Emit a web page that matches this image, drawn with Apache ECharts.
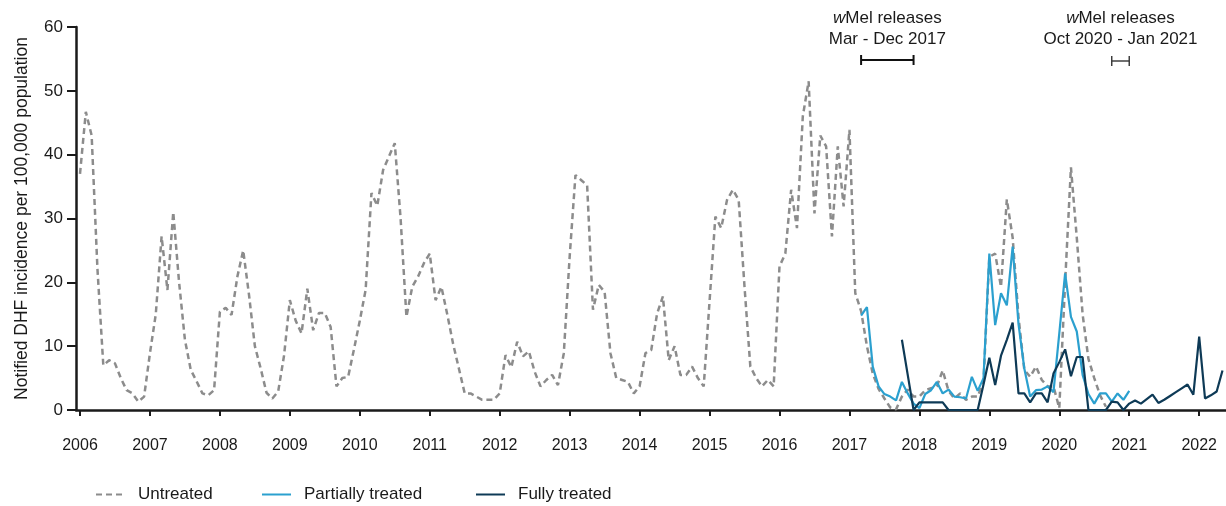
<!DOCTYPE html>
<html>
<head>
<meta charset="utf-8">
<script src="https://cdn.jsdelivr.net/npm/echarts@6/dist/echarts.min.js"></script>
<style>
html,body{margin:0;padding:0;background:#fff;}
#chart{width:1226px;height:506px;}
</style>
</head>
<body>
<div id="chart"></div>
<script>
// ---------- DATA (monthly notified DHF incidence per 100,000) ----------
const yearTicks = [2006,2007,2008,2009,2010,2011,2012,2013,2014,2015,2016,2017,2018,2019,2020,2021,2022];

// Untreated: Jan 2006 - Sep 2020
const untreatedStart = [2006, 1];
const untreatedValues = [
  37, 46.7, 43, 22, 7, 7.8, 7.3, 5, 3.1, 2.6, 1.3, 2.1,            // 2006
  8.9, 15, 27.2, 18.8, 31, 20, 11, 6.3, 4.5, 2.6, 2.3, 3.1,        // 2007
  15.4, 16, 14.9, 20.9, 25, 18, 10, 6.5, 2.7, 1.8, 2.9, 8.5,       // 2008
  17.2, 14, 12, 19, 12.5, 15.2, 15.2, 13, 3.7, 5, 5.2, 9.5,        // 2009
  14, 18.8, 34, 32, 37.6, 39.7, 41.8, 30, 14.6, 19.3, 20.9, 23,    // 2010
  24.5, 17.2, 19.3, 15, 10.4, 6.5, 2.6, 2.6, 2.1, 1.6, 1.6, 1.6,   // 2011
  2.6, 8.6, 6.7, 10.7, 8.4, 9.2, 6, 3.7, 4.7, 5.5, 3.9, 8.9,       // 2012
  24, 36.8, 36, 35.2, 15.7, 19.6, 18.5, 8.9, 5, 4.7, 4.4, 2.6,     // 2013
  3.7, 8.9, 9.4, 15.1, 17.8, 7.8, 10, 5.5, 5.5, 6.8, 5, 3.7,       // 2014
  17, 30.3, 28.5, 32.9, 34.5, 32.9, 19.3, 6.8, 5, 3.7, 4.7, 3.7,   // 2015
  22.5, 24.5, 34.5, 28.5, 46, 51.5, 30.8, 43, 41.3, 27.2, 41.3, 31.9, // 2016
  43.9, 18.3, 15.5, 10, 5.7, 3.3, 1.8, 0.4, 0.1, 2.1, 3.2, 2.1,    // 2017
  2.1, 3.1, 3.4, 3.7, 6.2, 3, 1.8, 2.6, 1.6, 2.1, 2.1, 4.5,        // 2018
  24, 24.5, 19.3, 33, 27, 14.6, 6.3, 5.2, 6.8, 4.7, 3.7, 3.7,      // 2019
  0.3, 20, 38, 27, 15, 8, 5, 2.3, 0.5                              // 2020
];

// Partially treated: Mar 2017 - Jan 2021
const partialStart = [2017, 3];
const partialValues = [
  14.8, 16.1, 6.8, 3.7, 2.5, 2.1, 1.5, 4.4, 2.6, 1,                // 2017
  0.3, 2.5, 3.1, 4.4, 2.6, 3.2, 2.1, 2, 1.8, 5.2, 3, 5,            // 2018
  24.5, 13.3, 18.3, 16.4, 25.6, 13.5, 6.5, 2.1, 3.1, 3.2, 3.7, 2.8, // 2019
  12, 21.4, 14.6, 12.3, 5.5, 2.5, 1, 2.6, 2.6, 1.3, 2.6, 1.6,      // 2020
  3                                                                // 2021
];

// Fully treated: Oct 2017 - May 2022
const fullStart = [2017, 10];
const fullValues = [
  11, 5.5, 0,                                                      // 2017
  1.2, 1.2, 1.2, 1.2, 1.2, 0, 0, 0, 0, 0, 0, 4,                    // 2018
  8.2, 3.9, 8.5, 11, 13.7, 2.6, 2.6, 1.2, 2.6, 2.6, 1.2, 5.7,      // 2019
  7.5, 9.5, 5.3, 8.3, 8.3, 0, 0, 0, 0, 1.3, 1.2, 0,                // 2020
  1, 1.5, 1, 1.7, 2.4, 1.1, 1.6, 2.2, 2.8, 3.4, 4, 2.4,            // 2021
  11.5, 1.8, 2.3, 2.9, 6.2                                         // 2022
];

// Release periods (annotations)
const releases = [
  { title: 'Mel releases', period: 'Mar - Dec 2017', from: [2017, 3], to: [2017, 12], bold: true },
  { title: 'Mel releases', period: 'Oct 2020 - Jan 2021', from: [2020, 10], to: [2021, 1], bold: false }
];

// ---------- BUILD ----------
function toX(ym) { return ym[0] + (ym[1] - 1) / 12; }
function monthly(start, values) {
  return values.map((v, i) => [start[0] + (start[1] - 1 + i) / 12, v]);
}

const FONT = "'Liberation Sans', Arial, Helvetica, sans-serif";
const INK = '#1a1a1a';
const C_UNT = '#8c8c8c', C_PAR = '#2ba0cf', C_FUL = '#0e3a56';

const chart = echarts.init(document.getElementById('chart'), null, { renderer: 'canvas' });

const legendBase = {
  top: 486, padding: 0, itemWidth: 29, itemHeight: 14, orient: 'horizontal',
  itemStyle: { opacity: 0 },
  textStyle: { fontFamily: FONT, fontSize: 17, color: INK, padding: [0, 0, 0, 8] },
  selectedMode: false
};

const option = {
  backgroundColor: '#fff',
  animation: false,
  textStyle: { fontFamily: FONT },
  grid: { left: 76, right: 0, top: 27, bottom: 96, containLabel: false },
  legend: [
    Object.assign({}, legendBase, { left: 95, data: ['Untreated'] }),
    Object.assign({}, legendBase, { left: 261, data: ['Partially treated'] }),
    Object.assign({}, legendBase, { left: 475, data: ['Fully treated'] })
  ],
  xAxis: {
    type: 'value',
    min: 2006 - 4 / 70,
    max: 2022 + 4.6 / 12,
    axisLine: { show: true, onZero: false, lineStyle: { color: INK, width: 2.5 } },
    axisTick: { show: true, customValues: yearTicks, length: 6, lineStyle: { color: INK, width: 2 } },
    axisLabel: { show: true, customValues: yearTicks, margin: 28, fontSize: 16, color: INK, fontFamily: FONT,
                 formatter: v => String(Math.round(v)) },
    splitLine: { show: false }
  },
  yAxis: {
    type: 'value',
    min: 0, max: 60, interval: 10,
    name: 'Notified DHF incidence per 100,000 population',
    nameLocation: 'middle', nameGap: 45,
    nameTextStyle: { fontSize: 17.5, color: INK, fontFamily: FONT },
    axisLine: { show: true, onZero: false, lineStyle: { color: INK, width: 2.5 } },
    axisTick: { show: true, length: 9, lineStyle: { color: INK, width: 2 } },
    axisLabel: { fontSize: 17, color: INK, margin: 13, fontFamily: FONT },
    splitLine: { show: false }
  },
  series: [
    {
      name: 'Untreated', type: 'line', symbol: 'none',
      data: monthly(untreatedStart, untreatedValues),
      lineStyle: { color: C_UNT, width: 2.5, type: [6, 4] },
      itemStyle: { color: C_UNT }, z: 2
    },
    {
      name: 'Partially treated', type: 'line', symbol: 'none',
      data: monthly(partialStart, partialValues),
      lineStyle: { color: C_PAR, width: 2.2 },
      itemStyle: { color: C_PAR }, z: 3
    },
    {
      name: 'Fully treated', type: 'line', symbol: 'none',
      data: monthly(fullStart, fullValues),
      lineStyle: { color: C_FUL, width: 2.2 },
      itemStyle: { color: C_FUL }, z: 4
    }
  ]
};
chart.setOption(option);

// Annotations positioned from the x axis scale
const graphics = [];
releases.forEach(r => {
  const x1 = chart.convertToPixel({ xAxisIndex: 0 }, toX(r.from));
  const x2 = chart.convertToPixel({ xAxisIndex: 0 }, toX(r.to));
  const cx = (x1 + x2) / 2;
  const lw = r.bold ? 2 : 1.4;
  const col = r.bold ? '#111' : '#333';
  const by = r.bold ? 60 : 61;
  graphics.push({
    type: 'text', x: cx, y: 18,
    style: {
      text: '{w|w}{n|' + r.title + '}', align: 'center', verticalAlign: 'middle',
      rich: {
        w: { fontStyle: 'italic', fontSize: 17, fontFamily: FONT, fill: INK },
        n: { fontSize: 17, fontFamily: FONT, fill: INK }
      }
    }
  });
  graphics.push({
    type: 'text', x: cx, y: 39,
    style: { text: r.period, align: 'center', verticalAlign: 'middle', fontSize: 17, fontFamily: FONT, fill: INK }
  });
  graphics.push({ type: 'line', shape: { x1: x1, y1: by, x2: x2, y2: by }, style: { stroke: col, lineWidth: lw } });
  graphics.push({ type: 'line', shape: { x1: x1, y1: by - 5, x2: x1, y2: by + 5 }, style: { stroke: col, lineWidth: lw } });
  graphics.push({ type: 'line', shape: { x1: x2, y1: by - 5, x2: x2, y2: by + 5 }, style: { stroke: col, lineWidth: lw } });
});
chart.setOption({ graphic: graphics });
</script>
</body>
</html>
